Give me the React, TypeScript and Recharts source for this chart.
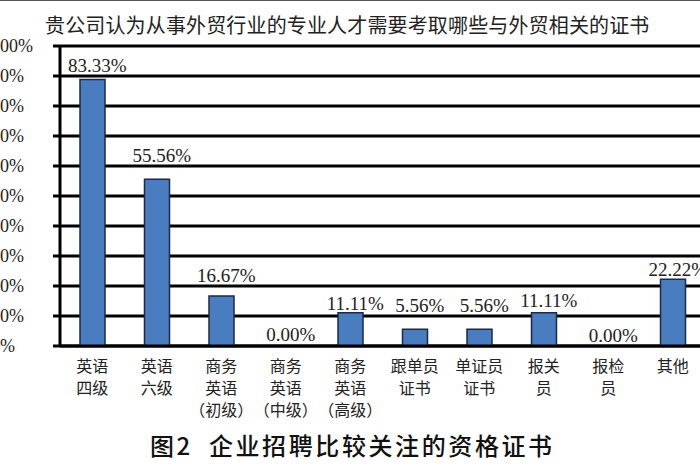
import React from 'react';
import { ComposedChart, Bar, Line, XAxis, YAxis, CartesianGrid, LabelList } from 'recharts';

const categories = [
  '英语\n四级',
  '英语\n六级',
  '商务\n英语\n（初级）',
  '商务\n英语\n（中级）',
  '商务\n英语\n（高级）',
  '跟单员\n证书',
  '单证员\n证书',
  '报关\n员',
  '报检\n员',
  '其他',
];
// bar heights as drawn in the picture (percent)
const barValues = [88.8, 55.56, 16.67, 0, 11.11, 5.56, 5.56, 11.11, 0, 22.22];
// value labels as printed
const labelTexts = ['83.33%', '55.56%', '16.67%', '0.00%', '11.11%', '5.56%', '5.56%', '11.11%', '0.00%', '22.22%'];
// vertical placement of each value label (percent units)
const labelPositions = [93.6, 63.6, 23.4, 4.0, 14.2, 13.5, 13.5, 15.2, 3.5, 25.4];
const yTicks = [0, 10, 20, 30, 40, 50, 60, 70, 80, 90, 100];
const boundaryTicks = [0, 1, 2, 3, 4, 5, 6, 7, 8, 9, 10];

const title = '贵公司认为从事外贸行业的专业人才需要考取哪些与外贸相关的证书';
const caption = '图2  企业招聘比较关注的资格证书';

const data = categories.map((c, i) => ({
  category: c,
  value: barValues[i],
  label: labelTexts[i],
  labelPos: labelPositions[i],
}));

const CJK = '"Noto Sans CJK SC", "Noto Sans", sans-serif';
const SERIF = '"Liberation Serif", "DejaVu Serif", serif';

const CategoryTick = (props: any) => {
  const { x, y, payload } = props;
  const lines = String(payload.value).split('\n');
  return (
    <g>
      {lines.map((l: string, i: number) => (
        <text
          key={i}
          x={x}
          y={y + 19 + i * 22}
          textAnchor="middle"
          dominantBaseline="central"
          fontFamily={CJK}
          fontSize={16}
          fill="#222"
        >
          {l}
        </text>
      ))}
    </g>
  );
};

const YTick = (props: any) => {
  const { y, payload } = props;
  return (
    <text x={-9} y={y} textAnchor="start" dominantBaseline="central" fontFamily={SERIF} fontSize={18} fill="#222">
      {payload.value}%
    </text>
  );
};

const ValueLabel = (props: any) => {
  const { x, y, value } = props;
  return (
    <text x={x + 5} y={y} textAnchor="middle" dominantBaseline="central" fontFamily={SERIF} fontSize={19} fill="#222">
      {value}
    </text>
  );
};

export default function App() {
  return (
    <div
      style={{
        position: 'fixed',
        left: 0,
        top: 0,
        width: 700,
        height: 470,
        overflow: 'hidden',
        background: '#fff',
      }}
    >
      <div style={{ position: 'absolute', left: 0, top: 0, width: 700, height: 1, background: '#555' }} />
      <div
        style={{
          position: 'absolute',
          left: 45,
          top: 11,
          fontFamily: CJK,
          fontSize: 20,
          color: '#222',
          whiteSpace: 'nowrap',
          lineHeight: '28px',
          letterSpacing: 0.15,
        }}
      >
        {title}
      </div>
      <ComposedChart
        width={720}
        height={470}
        data={data}
        margin={{ top: 46, right: 15, bottom: 0, left: 0 }}
        style={{ position: 'absolute', left: 0, top: 0 }}
      >
        <CartesianGrid
          xAxisId="cat"
          vertical={false}
          horizontal={{ stroke: '#000', strokeWidth: 3 }}
          stroke="#000"
          strokeWidth={3}
          strokeOpacity={1}
        />
        <XAxis
          xAxisId="grid"
          type="number"
          domain={[0, 10]}
          ticks={boundaryTicks}
          height={0}
          axisLine={false}
          tick={false}
          tickSize={6}
          tickLine={{ stroke: '#000', strokeWidth: 3 }}
          allowDataOverflow
        />
        <XAxis
          xAxisId="cat"
          dataKey="category"
          height={124}
          interval={0}
          tickLine={false}
          tickSize={0}
          tickMargin={0}
          axisLine={{ stroke: '#000', strokeWidth: 3 }}
          tick={<CategoryTick />}
        />
        <YAxis
          domain={[0, 100]}
          ticks={yTicks}
          width={60}
          tickSize={7}
          tickLine={{ stroke: '#000', strokeWidth: 3 }}
          axisLine={{ stroke: '#000', strokeWidth: 3 }}
          tick={<YTick />}
          interval={0}
        />
        <Bar
          xAxisId="cat"
          dataKey="value"
          barSize={25}
          fill="#4a7dc0"
          stroke="#1c2a44"
          strokeWidth={1.5}
          isAnimationActive={false}
        />
        <Line
          xAxisId="cat"
          dataKey="labelPos"
          stroke="none"
          dot={false}
          activeDot={false}
          isAnimationActive={false}
        >
          <LabelList dataKey="label" content={<ValueLabel />} />
        </Line>
      </ComposedChart>
      <div
        style={{
          position: 'absolute',
          left: 150,
          top: 429,
          fontFamily: CJK,
          fontSize: 24,
          fontWeight: 500,
          color: '#111',
          whiteSpace: 'pre',
          lineHeight: '32px',
          letterSpacing: 2.6,
        }}
      >
        {caption}
      </div>
    </div>
  );
}
